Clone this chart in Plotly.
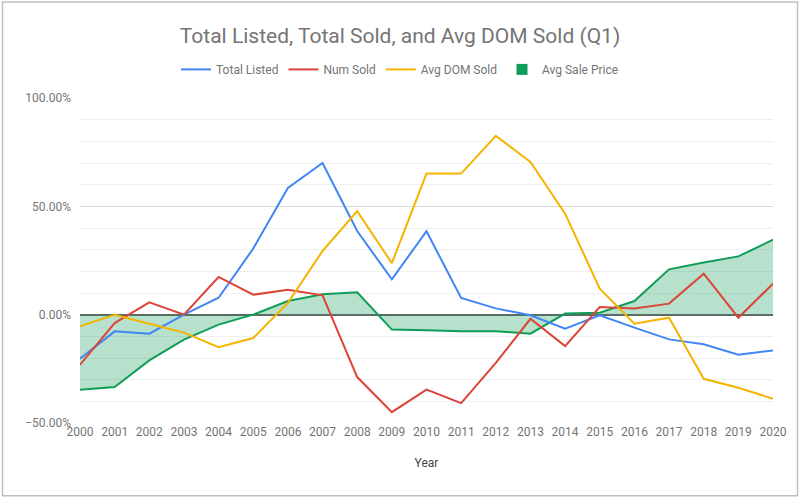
import plotly.graph_objects as go

years = list(range(2000, 2021))

# year-over-year change, as fractions
total_listed = [-0.203, -0.077, -0.088, 0.0, 0.078, 0.305, 0.585, 0.700, 0.386, 0.163, 0.385,
                0.077, 0.029, -0.003, -0.065, -0.003, -0.060, -0.114, -0.137, -0.185, -0.165]
num_sold = [-0.231, -0.039, 0.057, 0.0, 0.174, 0.092, 0.115, 0.089, -0.288, -0.450, -0.346,
            -0.408, -0.223, -0.019, -0.145, 0.035, 0.028, 0.051, 0.189, -0.014, 0.143]
avg_dom_sold = [-0.054, 0.0, -0.042, -0.083, -0.150, -0.108, 0.055, 0.294, 0.478, 0.238, 0.651,
                0.651, 0.825, 0.705, 0.466, 0.120, -0.042, -0.014, -0.296, -0.337, -0.388]
avg_sale_price = [-0.346, -0.334, -0.211, -0.115, -0.046, 0.0, 0.063, 0.094, 0.103, -0.069, -0.072,
                  -0.077, -0.076, -0.088, 0.005, 0.009, 0.063, 0.209, 0.241, 0.269, 0.346]

FONT = "Roboto"
GREY = "#757575"

fig = go.Figure()

# Avg Sale Price als Fläche (zuerst, damit die Linien darüber liegen)
fig.add_trace(go.Scatter(x=years, y=avg_sale_price, name="Avg Sale Price", mode="lines",
                         fill="tozeroy", fillcolor="rgba(15,157,88,0.3)",
                         line=dict(color="#0F9D58", width=2), showlegend=False))

fig.add_trace(go.Scatter(x=years, y=total_listed, name="Total Listed", mode="lines",
                         line=dict(color="#4285F4", width=2)))
fig.add_trace(go.Scatter(x=years, y=num_sold, name="Num Sold", mode="lines",
                         line=dict(color="#DB4437", width=2)))
fig.add_trace(go.Scatter(x=years, y=avg_dom_sold, name="Avg DOM Sold", mode="lines",
                         line=dict(color="#F4B400", width=2)))

# nur für die Legende: grünes Quadrat wie im Original
fig.add_trace(go.Scatter(x=[None], y=[None], name="Avg Sale Price", mode="markers",
                         marker=dict(color="#0F9D58", size=11, symbol="square")))

fig.update_layout(
    width=800, height=499,
    title=dict(text="Total Listed, Total Sold, and Avg DOM Sold (Q1)", x=0.5, xanchor="center",
               yref="container", y=0.928, yanchor="middle",
               font=dict(family=FONT, size=21, color=GREY)),
    font=dict(family=FONT, size=12, color=GREY),
    plot_bgcolor="white", paper_bgcolor="white",
    margin=dict(l=80, r=27, t=98, b=76),
    legend=dict(orientation="h", x=0.4618, xanchor="center",
                y=1.088, yanchor="middle",
                font=dict(family=FONT, size=12, color=GREY), itemwidth=30,
                traceorder="normal"),
    showlegend=True,
    xaxis=dict(
        title=dict(text="Year", font=dict(family=FONT, size=12, color="#444444"), standoff=20),
        range=[2000, 2020], tickmode="array", tickvals=years, ticktext=[str(y) for y in years],
        showgrid=False, zeroline=False, showline=False, ticks="",
        tickfont=dict(family=FONT, size=12, color=GREY),
    ),
    yaxis=dict(
        range=[-0.5, 1.0], dtick=0.5, tickformat=".2%",
        showgrid=True, gridcolor="#d9d9d9", gridwidth=1,
        minor=dict(dtick=0.1, showgrid=True, gridcolor="#efefef", gridwidth=1),
        zeroline=True, zerolinecolor="#666666", zerolinewidth=1.5,
        showline=False, ticks="", ticklabelstandoff=8,
        tickfont=dict(family=FONT, size=12, color=GREY),
    ),
    shapes=[dict(type="rect", xref="paper", yref="paper", x0=-0.1118, x1=1.0354, y0=-0.2235, y1=1.2951,
                 line=dict(color="#c0c0c0", width=1.5), fillcolor="rgba(0,0,0,0)")],
)

# Seitenrand des Browsers entfernen, damit die Grafik bei (0,0) beginnt
fig.write_html("out.html", config={"displayModeBar": False},
               post_script="document.body.style.margin='0';")
